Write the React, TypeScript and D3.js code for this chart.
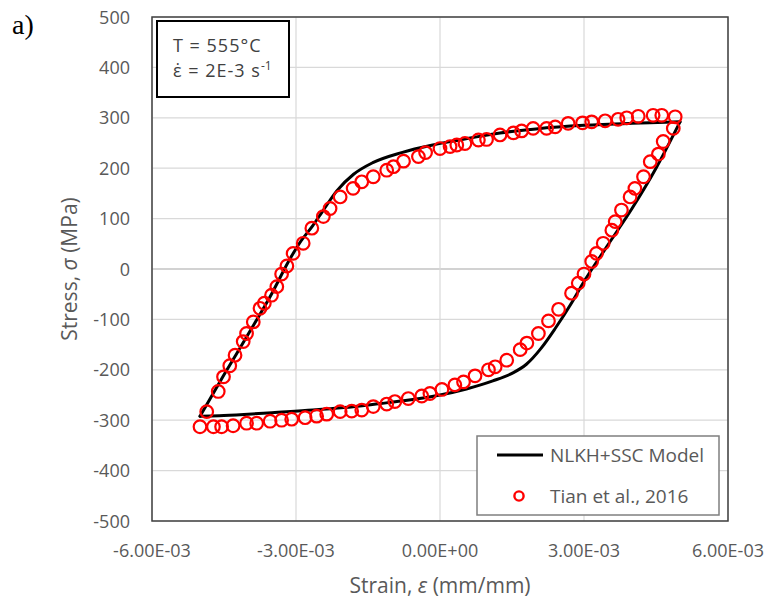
import React from "react";
import * as d3 from "d3";

// ---- Axis ticks ----
const xTickValues = [-0.006, -0.003, 0, 0.003, 0.006];
const xTickLabels = ["-6.00E-03", "-3.00E-03", "0.00E+00", "3.00E-03", "6.00E-03"];
const yTickValues = [500, 400, 300, 200, 100, 0, -100, -200, -300, -400, -500];
const yTickLabels = ["500", "400", "300", "200", "100", "0", "-100", "-200", "-300", "-400", "-500"];

// ---- NLKH+SSC Model (loading branch, strain increasing) ----
const modelLoadStrain = [-5.0e-3, -4.5e-3, -4.0e-3, -3.5e-3, -3.15e-3, -2.9e-3, -2.65e-3, -2.45e-3, -2.15e-3, -1.8e-3, -1.4e-3, -0.8e-3, -0.15e-3, 0.4e-3, 1.25e-3, 2.0e-3, 3.0e-3, 4.0e-3, 4.7e-3, 5.0e-3];
const modelLoadStress = [-292, -210, -130, -48, 16, 55, 86, 114, 155, 188, 211, 231, 246, 256, 270, 278, 285, 289, 291, 292];

// ---- NLKH+SSC Model (unloading branch, listed with strain increasing) ----
const modelUnloadStrain = [-5.0e-3, -4.6e-3, -4.0e-3, -3.5e-3, -2.65e-3, -2.0e-3, -1.25e-3, -0.8e-3, 0.0, 0.55e-3, 1.1e-3, 1.5e-3, 1.8e-3, 2.1e-3, 2.4e-3, 2.75e-3, 3.0e-3, 3.5e-3, 4.0e-3, 4.5e-3, 5.0e-3];
const modelUnloadStress = [-292, -291, -288, -285, -280, -275, -267, -262, -250, -238, -222, -207, -189, -158, -118, -66, -25, 48, 120, 200, 292];

// ---- Tian et al., 2016 (experimental) ----
const tianStrain = [
  -4.86e-3, -4.62e-3, -4.51e-3, -4.38e-3, -4.27e-3, -4.10e-3, -4.03e-3, -3.89e-3, -3.75e-3, -3.66e-3, -3.51e-3, -3.40e-3, -3.30e-3, -3.19e-3, -3.06e-3, -2.85e-3, -2.67e-3, -2.43e-3, -2.29e-3, -2.08e-3, -1.81e-3, -1.63e-3, -1.39e-3, -1.11e-3, -0.97e-3, -0.76e-3, -0.45e-3, -0.30e-3, 0.0, 0.21e-3, 0.35e-3, 0.52e-3, 0.80e-3, 0.97e-3, 1.25e-3, 1.53e-3, 1.70e-3, 1.94e-3, 2.22e-3, 2.40e-3, 2.67e-3, 2.97e-3, 3.16e-3, 3.44e-3, 3.71e-3, 3.89e-3, 4.13e-3, 4.44e-3, 4.62e-3, 4.90e-3,
  4.86e-3, 4.65e-3, 4.55e-3, 4.38e-3, 4.24e-3, 4.06e-3, 3.96e-3, 3.78e-3, 3.65e-3, 3.58e-3, 3.40e-3, 3.26e-3, 3.16e-3, 3.00e-3, 2.88e-3, 2.74e-3, 2.47e-3, 2.26e-3, 2.05e-3, 1.81e-3, 1.67e-3, 1.39e-3, 1.15e-3, 1.01e-3, 0.73e-3, 0.49e-3, 0.31e-3, 0.04e-3, -0.21e-3, -0.38e-3, -0.66e-3, -0.94e-3, -1.11e-3, -1.39e-3, -1.63e-3, -1.84e-3, -2.08e-3, -2.36e-3, -2.57e-3, -2.81e-3, -3.09e-3, -3.30e-3, -3.54e-3, -3.82e-3, -4.03e-3, -4.31e-3, -4.55e-3, -4.72e-3, -5.0e-3,
];
const tianStress = [
  -283, -243, -214, -192, -171, -144, -128, -105, -78, -68, -52, -35, -10, 6, 31, 51, 81, 104, 120, 143, 160, 173, 183, 196, 203, 214, 223, 231, 239, 243, 246, 249, 256, 257, 266, 270, 274, 279, 279, 282, 289, 290, 292, 294, 297, 300, 303, 305, 305, 302,
  279, 253, 228, 213, 183, 160, 143, 117, 94, 77, 51, 31, 15, -10, -28, -48, -80, -103, -128, -147, -160, -181, -194, -200, -212, -224, -230, -239, -247, -252, -257, -263, -268, -273, -280, -282, -283, -288, -292, -295, -298, -300, -302, -306, -306, -311, -313, -313, -313,
];

const W = 771;
const H = 601;
const plot = { left: 152, right: 728, top: 17, bottom: 521 };
const FONT = "'Open Sans', 'Noto Sans', sans-serif";
const GRAY = "#595959";

export default function App() {
  const x = d3.scaleLinear().domain([-0.006, 0.006]).range([plot.left, plot.right]);
  const y = d3.scaleLinear().domain([-500, 500]).range([plot.bottom, plot.top]);

  const line = d3
    .line<[number, number]>()
    .x((d) => x(d[0]))
    .y((d) => y(d[1]))
    .curve(d3.curveMonotoneX);

  const loadPts: [number, number][] = modelLoadStrain.map((s, i) => [s, modelLoadStress[i]]);
  const unloadPts: [number, number][] = modelUnloadStrain.map((s, i) => [s, modelUnloadStress[i]]);
  const tian = tianStrain.map((s, i) => [s, tianStress[i]] as [number, number]);

  return (
    <div style={{ position: "absolute", left: 0, top: 0 }}>
      <svg width={W} height={H} style={{ display: "block", background: "#fff" }}>
        <rect x={0} y={0} width={W} height={H} fill="#fff" />
        {/* horizontal grid */}
        {yTickValues.map((v) => (
          <line
            key={"hg" + v}
            x1={plot.left}
            x2={plot.right}
            y1={y(v)}
            y2={y(v)}
            stroke={v === 0 ? "#a6a6a6" : "#d9d9d9"}
            strokeWidth={1.2}
          />
        ))}
        {/* vertical grid */}
        {xTickValues.map((v) => (
          <line
            key={"vg" + v}
            x1={x(v)}
            x2={x(v)}
            y1={plot.top}
            y2={plot.bottom}
            stroke="#d9d9d9"
            strokeWidth={1.2}
          />
        ))}
        {/* plot border */}
        <rect
          x={plot.left}
          y={plot.top}
          width={plot.right - plot.left}
          height={plot.bottom - plot.top}
          fill="none"
          stroke="#404040"
          strokeWidth={1.5}
        />
        {/* y tick labels */}
        {yTickValues.map((v, i) => (
          <text
            key={"yl" + v}
            x={130}
            y={y(v) + 6.5}
            textAnchor="end"
            fontFamily={FONT}
            fontSize={18}
            fill={GRAY}
          >
            {yTickLabels[i]}
          </text>
        ))}
        {/* x tick labels */}
        {xTickValues.map((v, i) => (
          <text
            key={"xl" + v}
            x={x(v)}
            y={557}
            textAnchor="middle"
            fontFamily={FONT}
            fontSize={18}
            fill={GRAY}
          >
            {xTickLabels[i]}
          </text>
        ))}
        {/* axis titles */}
        <text x={440} y={593} textAnchor="middle" fontFamily={FONT} fontSize={21} fill={GRAY}>
          Strain, <tspan fontStyle="italic">ε</tspan> (mm/mm)
        </text>
        <text
          transform={`translate(77,${(plot.top + plot.bottom) / 2}) rotate(-90)`}
          textAnchor="middle"
          fontFamily={FONT}
          fontSize={21}
          fill={GRAY}
        >
          Stress, <tspan fontStyle="italic">σ</tspan> (MPa)
        </text>

        {/* model curve */}
        <path d={line(loadPts) || ""} fill="none" stroke="#000" strokeWidth={3} strokeLinejoin="round" strokeLinecap="round" />
        <path d={line(unloadPts) || ""} fill="none" stroke="#000" strokeWidth={3} strokeLinejoin="round" strokeLinecap="round" />

        {/* experimental points */}
        {tian.map((d, i) => (
          <circle key={"t" + i} cx={x(d[0])} cy={y(d[1])} r={6.3} fill="none" stroke="#ff0000" strokeWidth={2.2} />
        ))}

        {/* annotation box */}
        <rect x={157} y={21} width={132} height={76} fill="#fff" stroke="#000" strokeWidth={2} />
        <text x={173} y={52} fontFamily={FONT} fontSize={18} letterSpacing={1} fill="#404040">
          T = 555°C
        </text>
        <text x={173} y={77} fontFamily={FONT} fontSize={18} letterSpacing={1} fill="#404040">
          ε̇ = 2E-3 s
          <tspan dy={-7} fontSize={12} letterSpacing={0}>-1</tspan>
        </text>

        {/* legend */}
        <rect x={477} y={436} width={242} height={79} fill="#fff" stroke="#7f7f7f" strokeWidth={1.5} />
        <line x1={497} x2={543} y1={455} y2={455} stroke="#000" strokeWidth={3} />
        <text x={550} y={462} fontFamily={FONT} fontSize={19} fill={GRAY}>
          NLKH+SSC Model
        </text>
        <circle cx={519} cy={496} r={4.6} fill="none" stroke="#ff0000" strokeWidth={2.4} />
        <text x={550} y={503} fontFamily={FONT} fontSize={19} fill={GRAY}>
          Tian et al., 2016
        </text>

        {/* panel label */}
        <text x={12} y={34} fontFamily="'Liberation Serif', 'Times New Roman', serif" fontSize={28} fill="#000">
          a)
        </text>
      </svg>
    </div>
  );
}
